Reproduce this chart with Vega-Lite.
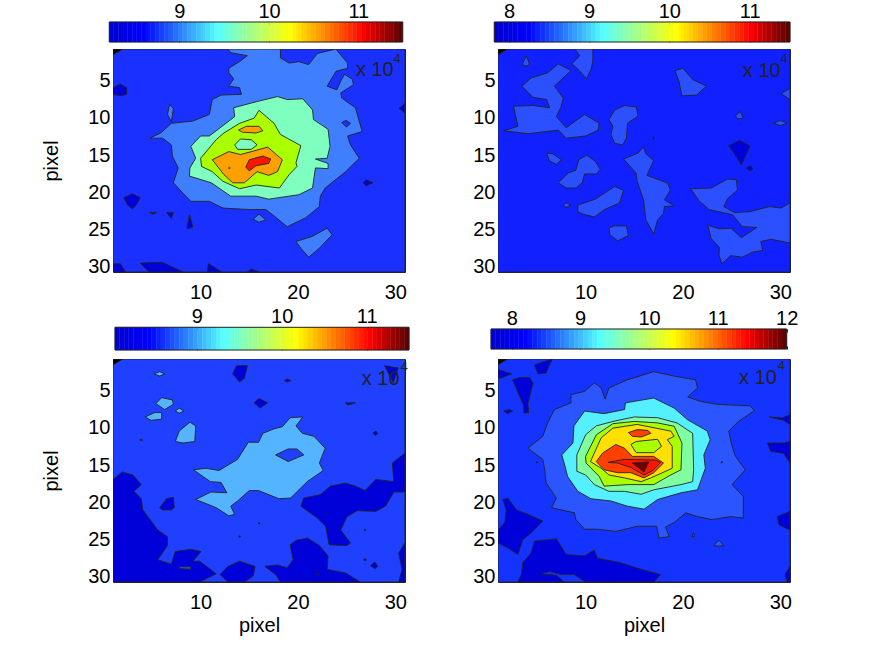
{
  "$schema": "https://vega.github.io/schema/vega-lite/v6.json",
  "padding": {"left": 41, "top": 1, "right": 0, "bottom": 0},
  "background": "white",
  "datasets": {
    "jet": [
      {"i":0,"j":1},{"i":1,"j":2},{"i":2,"j":3},{"i":3,"j":4},{"i":4,"j":5},{"i":5,"j":6},{"i":6,"j":7},{"i":7,"j":8},
      {"i":8,"j":9},{"i":9,"j":10},{"i":10,"j":11},{"i":11,"j":12},{"i":12,"j":13},{"i":13,"j":14},{"i":14,"j":15},{"i":15,"j":16},
      {"i":16,"j":17},{"i":17,"j":18},{"i":18,"j":19},{"i":19,"j":20},{"i":20,"j":21},{"i":21,"j":22},{"i":22,"j":23},{"i":23,"j":24},
      {"i":24,"j":25},{"i":25,"j":26},{"i":26,"j":27},{"i":27,"j":28},{"i":28,"j":29},{"i":29,"j":30},{"i":30,"j":31},{"i":31,"j":32},
      {"i":32,"j":33},{"i":33,"j":34},{"i":34,"j":35},{"i":35,"j":36},{"i":36,"j":37},{"i":37,"j":38},{"i":38,"j":39},{"i":39,"j":40},
      {"i":40,"j":41},{"i":41,"j":42},{"i":42,"j":43},{"i":43,"j":44},{"i":44,"j":45},{"i":45,"j":46},{"i":46,"j":47},{"i":47,"j":48},
      {"i":48,"j":49},{"i":49,"j":50},{"i":50,"j":51},{"i":51,"j":52},{"i":52,"j":53},{"i":53,"j":54},{"i":54,"j":55},{"i":55,"j":56},
      {"i":56,"j":57},{"i":57,"j":58},{"i":58,"j":59},{"i":59,"j":60},{"i":60,"j":61},{"i":61,"j":62},{"i":62,"j":63},{"i":63,"j":64}
    ],
    "topLeft": [
      {"shape":1,"level":2,"x":1,"y":1},{"shape":1,"level":2,"x":31,"y":1},{"shape":1,"level":2,"x":31,"y":31},{"shape":1,"level":2,"x":1,"y":31},{"shape":1,"level":2,"x":1,"y":1},

      {"shape":2,"level":3,"x":12.8,"y":1},{"shape":2,"level":3,"x":13.1,"y":1.5},{"shape":2,"level":3,"x":14.8,"y":1.9},{"shape":2,"level":3,"x":14,"y":2.7},{"shape":2,"level":3,"x":12.9,"y":3.6},{"shape":2,"level":3,"x":12.9,"y":4.2},{"shape":2,"level":3,"x":13.4,"y":5},{"shape":2,"level":3,"x":12.9,"y":6},{"shape":2,"level":3,"x":14,"y":6.2},{"shape":2,"level":3,"x":14.2,"y":7.1},{"shape":2,"level":3,"x":12.1,"y":7.2},{"shape":2,"level":3,"x":11.2,"y":7.8},{"shape":2,"level":3,"x":10.9,"y":9.8},{"shape":2,"level":3,"x":9.2,"y":10.7},{"shape":2,"level":3,"x":7,"y":11},{"shape":2,"level":3,"x":5.9,"y":12.3},{"shape":2,"level":3,"x":4.8,"y":13},{"shape":2,"level":3,"x":6.1,"y":13},{"shape":2,"level":3,"x":7,"y":13.9},{"shape":2,"level":3,"x":7.1,"y":15.4},{"shape":2,"level":3,"x":7.7,"y":17},{"shape":2,"level":3,"x":7.2,"y":19},{"shape":2,"level":3,"x":8.2,"y":20.4},{"shape":2,"level":3,"x":9,"y":21.5},{"shape":2,"level":3,"x":10.9,"y":21.5},{"shape":2,"level":3,"x":12.3,"y":22.4},{"shape":2,"level":3,"x":15,"y":22.6},{"shape":2,"level":3,"x":16.7,"y":22.6},{"shape":2,"level":3,"x":17.4,"y":23.3},{"shape":2,"level":3,"x":18.9,"y":24.9},{"shape":2,"level":3,"x":20.8,"y":23.7},{"shape":2,"level":3,"x":22.2,"y":22.2},{"shape":2,"level":3,"x":22.3,"y":20.8},{"shape":2,"level":3,"x":22.8,"y":19.7},{"shape":2,"level":3,"x":24.9,"y":17.5},{"shape":2,"level":3,"x":26.3,"y":15.7},{"shape":2,"level":3,"x":25.4,"y":13.9},{"shape":2,"level":3,"x":25.1,"y":12.7},{"shape":2,"level":3,"x":26.6,"y":12.1},{"shape":2,"level":3,"x":25.9,"y":8.9},{"shape":2,"level":3,"x":24.5,"y":7.6},{"shape":2,"level":3,"x":24.4,"y":6.9},{"shape":2,"level":3,"x":25.7,"y":5.8},{"shape":2,"level":3,"x":25.6,"y":5.1},{"shape":2,"level":3,"x":24.8,"y":4.4},{"shape":2,"level":3,"x":24.4,"y":5.3},{"shape":2,"level":3,"x":24,"y":6.5},{"shape":2,"level":3,"x":23,"y":6},{"shape":2,"level":3,"x":23.9,"y":4},{"shape":2,"level":3,"x":25.1,"y":3.6},{"shape":2,"level":3,"x":25.1,"y":2.9},{"shape":2,"level":3,"x":23.9,"y":1},{"shape":2,"level":3,"x":22,"y":1.6},{"shape":2,"level":3,"x":21.1,"y":3.1},{"shape":2,"level":3,"x":20.1,"y":2.7},{"shape":2,"level":3,"x":19.1,"y":2.9},{"shape":2,"level":3,"x":18.2,"y":2.2},{"shape":2,"level":3,"x":18.2,"y":1},{"shape":2,"level":3,"x":12.8,"y":1},

      {"shape":3,"level":3,"x":6.6,"y":9.8},{"shape":3,"level":3,"x":6.8,"y":8.5},{"shape":3,"level":3,"x":7.2,"y":9},{"shape":3,"level":3,"x":7,"y":10.8},{"shape":3,"level":3,"x":6.6,"y":9.8},
      {"shape":4,"level":3,"x":19.8,"y":26.9},{"shape":4,"level":3,"x":21.5,"y":26.2},{"shape":4,"level":3,"x":23,"y":25.1},{"shape":4,"level":3,"x":23.5,"y":26},{"shape":4,"level":3,"x":22.2,"y":27.8},{"shape":4,"level":3,"x":21.1,"y":29},{"shape":4,"level":3,"x":20.3,"y":27.8},{"shape":4,"level":3,"x":19.8,"y":26.9},
      {"shape":5,"level":3,"x":15.4,"y":23.9},{"shape":5,"level":3,"x":16,"y":23.2},{"shape":5,"level":3,"x":16.7,"y":24},{"shape":5,"level":3,"x":16,"y":24.3},{"shape":5,"level":3,"x":15.4,"y":23.9},

      {"shape":6,"level":4,"x":13.4,"y":8.9},{"shape":6,"level":4,"x":15.7,"y":8.1},{"shape":6,"level":4,"x":17.9,"y":7.4},{"shape":6,"level":4,"x":18.9,"y":7.8},{"shape":6,"level":4,"x":20.5,"y":7.7},{"shape":6,"level":4,"x":21.5,"y":9.2},{"shape":6,"level":4,"x":21.6,"y":10.5},{"shape":6,"level":4,"x":23.1,"y":11.8},{"shape":6,"level":4,"x":23.3,"y":14.1},{"shape":6,"level":4,"x":23,"y":15.7},{"shape":6,"level":4,"x":21.8,"y":15.8},{"shape":6,"level":4,"x":23.1,"y":16.4},{"shape":6,"level":4,"x":23.1,"y":17.1},{"shape":6,"level":4,"x":21.8,"y":17},{"shape":6,"level":4,"x":21.5,"y":19.7},{"shape":6,"level":4,"x":20.1,"y":20.6},{"shape":6,"level":4,"x":17,"y":21.2},{"shape":6,"level":4,"x":15.7,"y":20.8},{"shape":6,"level":4,"x":13.1,"y":20.8},{"shape":6,"level":4,"x":11.1,"y":19},{"shape":6,"level":4,"x":8.85,"y":18.1},{"shape":6,"level":4,"x":8.9,"y":17},{"shape":6,"level":4,"x":9.5,"y":15.7},{"shape":6,"level":4,"x":9,"y":14.1},{"shape":6,"level":4,"x":10,"y":12.7},{"shape":6,"level":4,"x":10.9,"y":12.7},{"shape":6,"level":4,"x":13.5,"y":10.1},{"shape":6,"level":4,"x":13.4,"y":8.9},

      {"shape":7,"level":5,"x":16,"y":9.25},{"shape":7,"level":5,"x":17.55,"y":11},{"shape":7,"level":5,"x":18.2,"y":12.5},{"shape":7,"level":5,"x":20.3,"y":14},{"shape":7,"level":5,"x":19.8,"y":16.3},{"shape":7,"level":5,"x":19.9,"y":16.8},{"shape":7,"level":5,"x":19.1,"y":17.9},{"shape":7,"level":5,"x":18.1,"y":19.7},{"shape":7,"level":5,"x":15.7,"y":19.3},{"shape":7,"level":5,"x":14,"y":19.8},{"shape":7,"level":5,"x":12.3,"y":18.8},{"shape":7,"level":5,"x":11.2,"y":17.5},{"shape":7,"level":5,"x":10.1,"y":16.8},{"shape":7,"level":5,"x":10,"y":15.7},{"shape":7,"level":5,"x":11.6,"y":13.2},{"shape":7,"level":5,"x":12.4,"y":12.3},{"shape":7,"level":5,"x":14,"y":11},{"shape":7,"level":5,"x":15.5,"y":10.3},{"shape":7,"level":5,"x":16,"y":9.25},

      {"shape":8,"level":4,"x":13.5,"y":13.9},{"shape":8,"level":4,"x":14.1,"y":13.1},{"shape":8,"level":4,"x":15.2,"y":13.2},{"shape":8,"level":4,"x":15.8,"y":13.9},{"shape":8,"level":4,"x":15.2,"y":14.5},{"shape":8,"level":4,"x":13.8,"y":14.5},{"shape":8,"level":4,"x":13.5,"y":13.9},
      {"shape":9,"level":6,"x":13.9,"y":11.9},{"shape":9,"level":6,"x":14.7,"y":11.4},{"shape":9,"level":6,"x":16,"y":11.4},{"shape":9,"level":6,"x":16.4,"y":12},{"shape":9,"level":6,"x":15.7,"y":12.3},{"shape":9,"level":6,"x":14.3,"y":12.2},{"shape":9,"level":6,"x":13.9,"y":11.9},
      {"shape":10,"level":6,"x":11.2,"y":15.9},{"shape":10,"level":6,"x":12.9,"y":14.8},{"shape":10,"level":6,"x":14.1,"y":15.2},{"shape":10,"level":6,"x":16.9,"y":14.2},{"shape":10,"level":6,"x":18.4,"y":15.9},{"shape":10,"level":6,"x":17.9,"y":17.5},{"shape":10,"level":6,"x":17,"y":18},{"shape":10,"level":6,"x":15.8,"y":17.5},{"shape":10,"level":6,"x":14.5,"y":19},{"shape":10,"level":6,"x":13.3,"y":19},{"shape":10,"level":6,"x":12.4,"y":17.9},{"shape":10,"level":6,"x":11.2,"y":15.9},
      {"shape":11,"level":7,"x":14.65,"y":16.9},{"shape":11,"level":7,"x":15,"y":15.9},{"shape":11,"level":7,"x":16.4,"y":15.4},{"shape":11,"level":7,"x":17.2,"y":15.8},{"shape":11,"level":7,"x":17,"y":16.4},{"shape":11,"level":7,"x":15.7,"y":16.7},{"shape":11,"level":7,"x":15,"y":17.4},{"shape":11,"level":7,"x":14.65,"y":16.9},
      {"shape":12,"level":5,"x":12.85,"y":17},{"shape":12,"level":5,"x":12.95,"y":16.9},{"shape":12,"level":5,"x":13.05,"y":17},{"shape":12,"level":5,"x":12.95,"y":17.1},{"shape":12,"level":5,"x":12.85,"y":17},

      {"shape":13,"level":2,"x":24.5,"y":10.9},{"shape":13,"level":2,"x":24.95,"y":10.6},{"shape":13,"level":2,"x":25.4,"y":11},{"shape":13,"level":2,"x":25,"y":11.5},{"shape":13,"level":2,"x":24.5,"y":10.9},

      {"shape":14,"level":1,"x":1,"y":6.2},{"shape":14,"level":1,"x":1.75,"y":5.7},{"shape":14,"level":1,"x":2.4,"y":6.2},{"shape":14,"level":1,"x":2.4,"y":7.1},{"shape":14,"level":1,"x":1.75,"y":7.3},{"shape":14,"level":1,"x":1,"y":7.1},{"shape":14,"level":1,"x":1,"y":6.2},
      {"shape":15,"level":1,"x":2.1,"y":21},{"shape":15,"level":1,"x":3,"y":20.5},{"shape":15,"level":1,"x":3.8,"y":21},{"shape":15,"level":1,"x":3.4,"y":22},{"shape":15,"level":1,"x":3,"y":22.5},{"shape":15,"level":1,"x":2.5,"y":22},{"shape":15,"level":1,"x":2.1,"y":21},
      {"shape":16,"level":1,"x":4.75,"y":23},{"shape":16,"level":1,"x":5.5,"y":23},{"shape":16,"level":1,"x":5.1,"y":23.2},{"shape":16,"level":1,"x":4.75,"y":23},
      {"shape":17,"level":1,"x":6.5,"y":23},{"shape":17,"level":1,"x":7.2,"y":23},{"shape":17,"level":1,"x":7,"y":23.8},{"shape":17,"level":1,"x":6.5,"y":23},
      {"shape":18,"level":1,"x":8.85,"y":23.3},{"shape":18,"level":1,"x":9.2,"y":24.9},{"shape":18,"level":1,"x":9,"y":25.1},{"shape":18,"level":1,"x":8.6,"y":25.1},{"shape":18,"level":1,"x":8.85,"y":23.3},
      {"shape":19,"level":1,"x":26.7,"y":19},{"shape":19,"level":1,"x":27,"y":18.6},{"shape":19,"level":1,"x":27.7,"y":19},{"shape":19,"level":1,"x":27,"y":19.4},{"shape":19,"level":1,"x":26.7,"y":19},
      {"shape":20,"level":1,"x":31,"y":8.3},{"shape":20,"level":1,"x":30.4,"y":9},{"shape":20,"level":1,"x":31,"y":9.6},{"shape":20,"level":1,"x":31,"y":8.3},
      {"shape":21,"level":1,"x":1,"y":29.9},{"shape":21,"level":1,"x":1.75,"y":29.9},{"shape":21,"level":1,"x":2.3,"y":31},{"shape":21,"level":1,"x":1,"y":31},{"shape":21,"level":1,"x":1,"y":29.9},
      {"shape":22,"level":1,"x":3.8,"y":29.8},{"shape":22,"level":1,"x":6.05,"y":29.7},{"shape":22,"level":1,"x":8.2,"y":31},{"shape":22,"level":1,"x":4.7,"y":31},{"shape":22,"level":1,"x":3.8,"y":29.8},
      {"shape":23,"level":1,"x":10.7,"y":31},{"shape":23,"level":1,"x":10.8,"y":29.9},{"shape":23,"level":1,"x":12.2,"y":31},{"shape":23,"level":1,"x":10.7,"y":31},
      {"shape":24,"level":1,"x":14.8,"y":31},{"shape":24,"level":1,"x":15.2,"y":30.6},{"shape":24,"level":1,"x":16,"y":31},{"shape":24,"level":1,"x":14.8,"y":31},

      {"shape":25,"level":0,"x":1,"y":1},{"shape":25,"level":0,"x":2,"y":1},{"shape":25,"level":0,"x":1,"y":1.8},{"shape":25,"level":0,"x":1,"y":1}
    ],
    "topRight": [
      {"shape":1,"level":2,"x":1,"y":1},{"shape":1,"level":2,"x":31,"y":1},{"shape":1,"level":2,"x":31,"y":31},{"shape":1,"level":2,"x":1,"y":31},{"shape":1,"level":2,"x":1,"y":1},

      {"shape":2,"level":3,"x":8.9,"y":1},{"shape":2,"level":3,"x":10.75,"y":1},{"shape":2,"level":3,"x":10.75,"y":2.5},{"shape":2,"level":3,"x":10.6,"y":3.6},{"shape":2,"level":3,"x":10.1,"y":5},{"shape":2,"level":3,"x":9.2,"y":3.7},{"shape":2,"level":3,"x":8.6,"y":3},{"shape":2,"level":3,"x":9.4,"y":1.9},{"shape":2,"level":3,"x":8.9,"y":1},
      {"shape":3,"level":3,"x":3.5,"y":3.1},{"shape":3,"level":3,"x":3.9,"y":1.9},{"shape":3,"level":3,"x":4.25,"y":3.1},{"shape":3,"level":3,"x":3.9,"y":3.3},{"shape":3,"level":3,"x":3.5,"y":3.1},
      {"shape":4,"level":3,"x":3.46,"y":6},{"shape":4,"level":3,"x":4.4,"y":4.9},{"shape":4,"level":3,"x":6.1,"y":4.2},{"shape":4,"level":3,"x":7.2,"y":3},{"shape":4,"level":3,"x":8.5,"y":3.9},{"shape":4,"level":3,"x":6.8,"y":6},{"shape":4,"level":3,"x":7.7,"y":7.6},{"shape":4,"level":3,"x":7.5,"y":8.7},{"shape":4,"level":3,"x":7,"y":10.1},{"shape":4,"level":3,"x":8,"y":11.6},{"shape":4,"level":3,"x":9.9,"y":9.8},{"shape":4,"level":3,"x":11.4,"y":11},{"shape":4,"level":3,"x":11.3,"y":11.9},{"shape":4,"level":3,"x":10,"y":12.7},{"shape":4,"level":3,"x":8,"y":13},{"shape":4,"level":3,"x":7.2,"y":11.9},{"shape":4,"level":3,"x":4.1,"y":12.4},{"shape":4,"level":3,"x":1.6,"y":12},{"shape":4,"level":3,"x":3.05,"y":11.4},{"shape":4,"level":3,"x":2.6,"y":8.7},{"shape":4,"level":3,"x":4.6,"y":8.6},{"shape":4,"level":3,"x":6.3,"y":8.9},{"shape":4,"level":3,"x":6,"y":7.8},{"shape":4,"level":3,"x":4.6,"y":7.5},{"shape":4,"level":3,"x":3.46,"y":6},
      {"shape":5,"level":3,"x":19.2,"y":3.9},{"shape":5,"level":3,"x":20,"y":3.6},{"shape":5,"level":3,"x":21,"y":5.1},{"shape":5,"level":3,"x":22.4,"y":6},{"shape":5,"level":3,"x":21.4,"y":7.2},{"shape":5,"level":3,"x":19.9,"y":7.3},{"shape":5,"level":3,"x":19.6,"y":5.4},{"shape":5,"level":3,"x":19.2,"y":3.9},
      {"shape":6,"level":3,"x":30.1,"y":7},{"shape":6,"level":3,"x":31,"y":6.3},{"shape":6,"level":3,"x":31,"y":7.8},{"shape":6,"level":3,"x":30.1,"y":7},
      {"shape":7,"level":3,"x":12.4,"y":10.5},{"shape":7,"level":3,"x":13,"y":9.2},{"shape":7,"level":3,"x":14,"y":8.6},{"shape":7,"level":3,"x":15.2,"y":8.8},{"shape":7,"level":3,"x":15.4,"y":10},{"shape":7,"level":3,"x":14.3,"y":11},{"shape":7,"level":3,"x":14.2,"y":13},{"shape":7,"level":3,"x":13.8,"y":13.9},{"shape":7,"level":3,"x":13,"y":13.7},{"shape":7,"level":3,"x":12.6,"y":12.5},{"shape":7,"level":3,"x":12.8,"y":11.4},{"shape":7,"level":3,"x":12.4,"y":10.5},
      {"shape":8,"level":3,"x":6,"y":15},{"shape":8,"level":3,"x":6.65,"y":15.1},{"shape":8,"level":3,"x":7.5,"y":15.9},{"shape":8,"level":3,"x":7,"y":16.5},{"shape":8,"level":3,"x":6.3,"y":16.1},{"shape":8,"level":3,"x":6,"y":15},
      {"shape":9,"level":3,"x":7.2,"y":19},{"shape":9,"level":3,"x":8.2,"y":17.7},{"shape":9,"level":3,"x":9,"y":17.3},{"shape":9,"level":3,"x":9.3,"y":15.9},{"shape":9,"level":3,"x":10.1,"y":15.3},{"shape":9,"level":3,"x":11,"y":16.1},{"shape":9,"level":3,"x":11.5,"y":17.2},{"shape":9,"level":3,"x":11.1,"y":17.8},{"shape":9,"level":3,"x":9.9,"y":17.8},{"shape":9,"level":3,"x":9.65,"y":19},{"shape":9,"level":3,"x":9,"y":19.7},{"shape":9,"level":3,"x":8,"y":19.7},{"shape":9,"level":3,"x":7.2,"y":19},
      {"shape":10,"level":3,"x":7.7,"y":22},{"shape":10,"level":3,"x":8,"y":21.7},{"shape":10,"level":3,"x":8.5,"y":22},{"shape":10,"level":3,"x":8,"y":22.3},{"shape":10,"level":3,"x":7.7,"y":22},
      {"shape":11,"level":3,"x":9.2,"y":22},{"shape":11,"level":3,"x":11,"y":21.2},{"shape":11,"level":3,"x":12.97,"y":19.5},{"shape":11,"level":3,"x":13.9,"y":20},{"shape":11,"level":3,"x":13.5,"y":21.7},{"shape":11,"level":3,"x":11.95,"y":22.6},{"shape":11,"level":3,"x":10.9,"y":23.6},{"shape":11,"level":3,"x":9.7,"y":23.2},{"shape":11,"level":3,"x":9.2,"y":22.9},{"shape":11,"level":3,"x":9.2,"y":22},
      {"shape":12,"level":3,"x":12.4,"y":25.1},{"shape":12,"level":3,"x":12.9,"y":24.8},{"shape":12,"level":3,"x":14.2,"y":24.8},{"shape":12,"level":3,"x":14.4,"y":26.1},{"shape":12,"level":3,"x":13.3,"y":26.8},{"shape":12,"level":3,"x":12.5,"y":26},{"shape":12,"level":3,"x":12.4,"y":25.1},
      {"shape":13,"level":3,"x":13.9,"y":15.8},{"shape":13,"level":3,"x":15.4,"y":15},{"shape":13,"level":3,"x":15.95,"y":14.2},{"shape":13,"level":3,"x":16.2,"y":15.1},{"shape":13,"level":3,"x":17,"y":16},{"shape":13,"level":3,"x":16.3,"y":18},{"shape":13,"level":3,"x":18.45,"y":19.05},{"shape":13,"level":3,"x":18.7,"y":20},{"shape":13,"level":3,"x":18.1,"y":21.3},{"shape":13,"level":3,"x":19.1,"y":22.1},{"shape":13,"level":3,"x":18.1,"y":22.2},{"shape":13,"level":3,"x":18,"y":23.1},{"shape":13,"level":3,"x":17.4,"y":24},{"shape":13,"level":3,"x":17,"y":25.9},{"shape":13,"level":3,"x":16.2,"y":24},{"shape":13,"level":3,"x":15.95,"y":21.3},{"shape":13,"level":3,"x":15.3,"y":18.8},{"shape":13,"level":3,"x":15.2,"y":17.7},{"shape":13,"level":3,"x":13.9,"y":15.8},
      {"shape":14,"level":3,"x":20.8,"y":19.8},{"shape":14,"level":3,"x":22.9,"y":19.7},{"shape":14,"level":3,"x":24.6,"y":18.5},{"shape":14,"level":3,"x":25.5,"y":18.6},{"shape":14,"level":3,"x":25.6,"y":20},{"shape":14,"level":3,"x":24.6,"y":21.1},{"shape":14,"level":3,"x":24.2,"y":22.2},{"shape":14,"level":3,"x":25.3,"y":23},{"shape":14,"level":3,"x":26.8,"y":22.9},{"shape":14,"level":3,"x":28.9,"y":22.2},{"shape":14,"level":3,"x":30.1,"y":22.4},{"shape":14,"level":3,"x":31,"y":21.7},{"shape":14,"level":3,"x":31,"y":27.1},{"shape":14,"level":3,"x":29.05,"y":26.6},{"shape":14,"level":3,"x":28,"y":26.9},{"shape":14,"level":3,"x":28.2,"y":28.1},{"shape":14,"level":3,"x":27.2,"y":28.3},{"shape":14,"level":3,"x":26.1,"y":29},{"shape":14,"level":3,"x":24.9,"y":28.8},{"shape":14,"level":3,"x":24,"y":29.9},{"shape":14,"level":3,"x":23.7,"y":28.7},{"shape":14,"level":3,"x":23.75,"y":27.7},{"shape":14,"level":3,"x":22.9,"y":26.5},{"shape":14,"level":3,"x":22.55,"y":24.7},{"shape":14,"level":3,"x":23.75,"y":25.2},{"shape":14,"level":3,"x":24.95,"y":25.1},{"shape":14,"level":3,"x":26,"y":26.4},{"shape":14,"level":3,"x":27.6,"y":25},{"shape":14,"level":3,"x":26.1,"y":24.9},{"shape":14,"level":3,"x":25.1,"y":23.3},{"shape":14,"level":3,"x":22.7,"y":22.6},{"shape":14,"level":3,"x":21.7,"y":21.5},{"shape":14,"level":3,"x":20.8,"y":19.8},
      {"shape":15,"level":3,"x":25.4,"y":10},{"shape":15,"level":3,"x":25.9,"y":9.4},{"shape":15,"level":3,"x":26.2,"y":10.3},{"shape":15,"level":3,"x":25.6,"y":10.4},{"shape":15,"level":3,"x":25.4,"y":10},
      {"shape":16,"level":3,"x":29.3,"y":11},{"shape":16,"level":3,"x":30,"y":10.6},{"shape":16,"level":3,"x":30.7,"y":11},{"shape":16,"level":3,"x":30,"y":11.3},{"shape":16,"level":3,"x":29.3,"y":11},

      {"shape":17,"level":1,"x":24.7,"y":14},{"shape":17,"level":1,"x":25.8,"y":13.3},{"shape":17,"level":1,"x":26.9,"y":14},{"shape":17,"level":1,"x":26,"y":16.6},{"shape":17,"level":1,"x":25.3,"y":15.1},{"shape":17,"level":1,"x":24.7,"y":14},
      {"shape":18,"level":1,"x":26.5,"y":17},{"shape":18,"level":1,"x":26.9,"y":16.7},{"shape":18,"level":1,"x":27.2,"y":17.1},{"shape":18,"level":1,"x":26.9,"y":17.4},{"shape":18,"level":1,"x":26.5,"y":17},
      {"shape":19,"level":1,"x":16.9,"y":13},{"shape":19,"level":1,"x":17,"y":12.9},{"shape":19,"level":1,"x":17.1,"y":13},{"shape":19,"level":1,"x":17,"y":13.1},{"shape":19,"level":1,"x":16.9,"y":13},
      {"shape":20,"level":0,"x":1,"y":1},{"shape":20,"level":0,"x":2,"y":1},{"shape":20,"level":0,"x":1,"y":1.8},{"shape":20,"level":0,"x":1,"y":1}
    ],
    "bottomLeft": [
      {"shape":1,"level":2,"x":1,"y":1},{"shape":1,"level":2,"x":31,"y":1},{"shape":1,"level":2,"x":31,"y":31},{"shape":1,"level":2,"x":1,"y":31},{"shape":1,"level":2,"x":1,"y":1},

      {"shape":2,"level":3,"x":9.26,"y":15.9},{"shape":2,"level":3,"x":10.55,"y":15.7},{"shape":2,"level":3,"x":11.9,"y":16},{"shape":2,"level":3,"x":13.8,"y":14.5},{"shape":2,"level":3,"x":14.9,"y":12.2},{"shape":2,"level":3,"x":15.95,"y":12.2},{"shape":2,"level":3,"x":16.4,"y":11},{"shape":2,"level":3,"x":17.55,"y":10.4},{"shape":2,"level":3,"x":18.4,"y":10.1},{"shape":2,"level":3,"x":19.2,"y":8.9},{"shape":2,"level":3,"x":20.5,"y":8.8},{"shape":2,"level":3,"x":19.8,"y":10},{"shape":2,"level":3,"x":20.45,"y":11},{"shape":2,"level":3,"x":21.65,"y":11.4},{"shape":2,"level":3,"x":22.8,"y":13},{"shape":2,"level":3,"x":22.2,"y":15},{"shape":2,"level":3,"x":22.6,"y":16},{"shape":2,"level":3,"x":20.95,"y":17.5},{"shape":2,"level":3,"x":19.25,"y":19.7},{"shape":2,"level":3,"x":18.05,"y":19.8},{"shape":2,"level":3,"x":15.95,"y":18.7},{"shape":2,"level":3,"x":15,"y":18.7},{"shape":2,"level":3,"x":13.8,"y":20.1},{"shape":2,"level":3,"x":13.1,"y":20.8},{"shape":2,"level":3,"x":13.5,"y":21.9},{"shape":2,"level":3,"x":12.9,"y":22.1},{"shape":2,"level":3,"x":11.6,"y":21},{"shape":2,"level":3,"x":9.5,"y":19.9},{"shape":2,"level":3,"x":11.05,"y":18.9},{"shape":2,"level":3,"x":12.7,"y":19},{"shape":2,"level":3,"x":12.1,"y":17.6},{"shape":2,"level":3,"x":11,"y":17.5},{"shape":2,"level":3,"x":9.26,"y":15.9},
      {"shape":3,"level":2,"x":17.7,"y":13.9},{"shape":3,"level":2,"x":19,"y":13.1},{"shape":3,"level":2,"x":19.9,"y":13.1},{"shape":3,"level":2,"x":20.6,"y":13.9},{"shape":3,"level":2,"x":19,"y":14.8},{"shape":3,"level":2,"x":17.7,"y":13.9},
      {"shape":4,"level":3,"x":5.4,"y":7},{"shape":4,"level":3,"x":6,"y":6.2},{"shape":4,"level":3,"x":7.1,"y":6.5},{"shape":4,"level":3,"x":7.2,"y":7.1},{"shape":4,"level":3,"x":6.3,"y":7.8},{"shape":4,"level":3,"x":5.4,"y":7},
      {"shape":5,"level":3,"x":4.3,"y":8.8},{"shape":5,"level":3,"x":5.3,"y":8.2},{"shape":5,"level":3,"x":6,"y":8.2},{"shape":5,"level":3,"x":6,"y":9.1},{"shape":5,"level":3,"x":4.9,"y":9.25},{"shape":5,"level":3,"x":4.3,"y":8.8},
      {"shape":6,"level":3,"x":7.4,"y":12.1},{"shape":6,"level":3,"x":7.8,"y":10.7},{"shape":6,"level":3,"x":8.9,"y":9.5},{"shape":6,"level":3,"x":9.5,"y":10},{"shape":6,"level":3,"x":9.4,"y":12.1},{"shape":6,"level":3,"x":8.2,"y":12.3},{"shape":6,"level":3,"x":7.4,"y":12.1},
      {"shape":7,"level":3,"x":5.2,"y":3},{"shape":7,"level":3,"x":5.8,"y":2.7},{"shape":7,"level":3,"x":6.3,"y":3},{"shape":7,"level":3,"x":5.8,"y":3.3},{"shape":7,"level":3,"x":5.2,"y":3},
      {"shape":8,"level":3,"x":7.4,"y":8},{"shape":8,"level":3,"x":7.8,"y":7.6},{"shape":8,"level":3,"x":8.3,"y":8},{"shape":8,"level":3,"x":7.8,"y":8.3},{"shape":8,"level":3,"x":7.4,"y":8},

      {"shape":9,"level":1,"x":13.3,"y":3},{"shape":9,"level":1,"x":13.7,"y":1.9},{"shape":9,"level":1,"x":14.8,"y":1.9},{"shape":9,"level":1,"x":14.5,"y":3.6},{"shape":9,"level":1,"x":14,"y":4.1},{"shape":9,"level":1,"x":13.3,"y":3},
      {"shape":10,"level":1,"x":15.5,"y":6.9},{"shape":10,"level":1,"x":16,"y":6.3},{"shape":10,"level":1,"x":16.9,"y":6.9},{"shape":10,"level":1,"x":16.1,"y":7.6},{"shape":10,"level":1,"x":15.5,"y":6.9},
      {"shape":11,"level":1,"x":18.6,"y":3.9},{"shape":11,"level":1,"x":18.9,"y":3.7},{"shape":11,"level":1,"x":19.3,"y":3.9},{"shape":11,"level":1,"x":18.9,"y":4.1},{"shape":11,"level":1,"x":18.6,"y":3.9},
      {"shape":12,"level":1,"x":28.9,"y":1.9},{"shape":12,"level":1,"x":30.3,"y":2.2},{"shape":12,"level":1,"x":29.8,"y":4.2},{"shape":12,"level":1,"x":29.3,"y":2.9},{"shape":12,"level":1,"x":28.9,"y":1.9},
      {"shape":13,"level":1,"x":24.9,"y":6.9},{"shape":13,"level":1,"x":25.9,"y":6.9},{"shape":13,"level":1,"x":25.1,"y":7.2},{"shape":13,"level":1,"x":24.9,"y":6.9},
      {"shape":14,"level":1,"x":27.7,"y":11},{"shape":14,"level":1,"x":28,"y":10.7},{"shape":14,"level":1,"x":28.2,"y":11},{"shape":14,"level":1,"x":28,"y":11.3},{"shape":14,"level":1,"x":27.7,"y":11},
      {"shape":15,"level":1,"x":5.8,"y":21},{"shape":15,"level":1,"x":6.5,"y":19.8},{"shape":15,"level":1,"x":7.2,"y":19.6},{"shape":15,"level":1,"x":7.3,"y":21},{"shape":15,"level":1,"x":7,"y":21.3},{"shape":15,"level":1,"x":6.1,"y":21.3},{"shape":15,"level":1,"x":5.8,"y":21},
      {"shape":16,"level":1,"x":1,"y":17.2},{"shape":16,"level":1,"x":1.95,"y":16.2},{"shape":16,"level":1,"x":3.05,"y":16.6},{"shape":16,"level":1,"x":3.9,"y":17.9},{"shape":16,"level":1,"x":3.15,"y":18.8},{"shape":16,"level":1,"x":3.9,"y":19.8},{"shape":16,"level":1,"x":4.07,"y":21.3},{"shape":16,"level":1,"x":5.6,"y":24},{"shape":16,"level":1,"x":6.6,"y":24.9},{"shape":16,"level":1,"x":6.6,"y":26.1},{"shape":16,"level":1,"x":5.6,"y":28},{"shape":16,"level":1,"x":7,"y":28.6},{"shape":16,"level":1,"x":7.4,"y":26.9},{"shape":16,"level":1,"x":9,"y":26.6},{"shape":16,"level":1,"x":10.05,"y":26.9},{"shape":16,"level":1,"x":9.2,"y":28.2},{"shape":16,"level":1,"x":9.9,"y":28.2},{"shape":16,"level":1,"x":11.6,"y":29.9},{"shape":16,"level":1,"x":9.9,"y":31},{"shape":16,"level":1,"x":1,"y":31},{"shape":16,"level":1,"x":1,"y":17.2},
      {"shape":17,"level":2,"x":7.8,"y":28.9},{"shape":17,"level":2,"x":9,"y":28.9},{"shape":17,"level":2,"x":9,"y":29.3},{"shape":17,"level":2,"x":7.8,"y":29.2},{"shape":17,"level":2,"x":7.8,"y":28.9},
      {"shape":18,"level":1,"x":12,"y":30},{"shape":18,"level":1,"x":12.8,"y":28.9},{"shape":18,"level":1,"x":14,"y":28.2},{"shape":18,"level":1,"x":15.6,"y":28.9},{"shape":18,"level":1,"x":15.4,"y":30.2},{"shape":18,"level":1,"x":14.5,"y":31},{"shape":18,"level":1,"x":12.8,"y":31},{"shape":18,"level":1,"x":12,"y":30},
      {"shape":19,"level":1,"x":16.6,"y":28.9},{"shape":19,"level":1,"x":17.9,"y":28.7},{"shape":19,"level":1,"x":18.9,"y":29.1},{"shape":19,"level":1,"x":19.5,"y":28},{"shape":19,"level":1,"x":19.2,"y":26},{"shape":19,"level":1,"x":19.8,"y":25.4},{"shape":19,"level":1,"x":21,"y":25.1},{"shape":19,"level":1,"x":22.2,"y":26.1},{"shape":19,"level":1,"x":23.1,"y":27.5},{"shape":19,"level":1,"x":23,"y":29.3},{"shape":19,"level":1,"x":24.9,"y":29.8},{"shape":19,"level":1,"x":26.4,"y":31},{"shape":19,"level":1,"x":18.2,"y":31},{"shape":19,"level":1,"x":17.7,"y":30},{"shape":19,"level":1,"x":16.6,"y":28.9},
      {"shape":20,"level":1,"x":20.3,"y":20.8},{"shape":20,"level":1,"x":20.6,"y":19.7},{"shape":20,"level":1,"x":22.3,"y":19.25},{"shape":20,"level":1,"x":23.35,"y":18.1},{"shape":20,"level":1,"x":24.9,"y":17.7},{"shape":20,"level":1,"x":25.9,"y":18.1},{"shape":20,"level":1,"x":26.9,"y":18.7},{"shape":20,"level":1,"x":28,"y":17.2},{"shape":20,"level":1,"x":29.85,"y":17.5},{"shape":20,"level":1,"x":29.7,"y":15},{"shape":20,"level":1,"x":31,"y":13.65},{"shape":20,"level":1,"x":31,"y":18.9},{"shape":20,"level":1,"x":29.85,"y":18.9},{"shape":20,"level":1,"x":29,"y":20.8},{"shape":20,"level":1,"x":28,"y":21.5},{"shape":20,"level":1,"x":26.1,"y":21.4},{"shape":20,"level":1,"x":25.05,"y":22.2},{"shape":20,"level":1,"x":24.4,"y":24},{"shape":20,"level":1,"x":25.4,"y":25.75},{"shape":20,"level":1,"x":25.05,"y":26.1},{"shape":20,"level":1,"x":23.2,"y":26},{"shape":20,"level":1,"x":22.85,"y":23.5},{"shape":20,"level":1,"x":22,"y":22.4},{"shape":20,"level":1,"x":20.3,"y":20.8},
      {"shape":21,"level":1,"x":31,"y":25.75},{"shape":21,"level":1,"x":30.35,"y":27.1},{"shape":21,"level":1,"x":30.7,"y":29.3},{"shape":21,"level":1,"x":30.35,"y":31},{"shape":21,"level":1,"x":31,"y":31},{"shape":21,"level":1,"x":31,"y":25.75},
      {"shape":22,"level":1,"x":27.45,"y":28.8},{"shape":22,"level":1,"x":27.9,"y":28.3},{"shape":22,"level":1,"x":28.2,"y":28.9},{"shape":22,"level":1,"x":27.9,"y":29.2},{"shape":22,"level":1,"x":27.45,"y":28.8},
      {"shape":23,"level":1,"x":22.85,"y":21.9},{"shape":23,"level":1,"x":22.95,"y":21.8},{"shape":23,"level":1,"x":23.05,"y":21.9},{"shape":23,"level":1,"x":22.95,"y":22},{"shape":23,"level":1,"x":22.85,"y":21.9},
      {"shape":24,"level":1,"x":26.8,"y":24},{"shape":24,"level":1,"x":26.9,"y":23.9},{"shape":24,"level":1,"x":27,"y":24},{"shape":24,"level":1,"x":26.9,"y":24.1},{"shape":24,"level":1,"x":26.8,"y":24},
      {"shape":25,"level":1,"x":13.9,"y":24.9},{"shape":25,"level":1,"x":14,"y":24.8},{"shape":25,"level":1,"x":14.1,"y":24.9},{"shape":25,"level":1,"x":14,"y":25},{"shape":25,"level":1,"x":13.9,"y":24.9},
      {"shape":26,"level":1,"x":15.9,"y":23.1},{"shape":26,"level":1,"x":16,"y":23},{"shape":26,"level":1,"x":16.1,"y":23.1},{"shape":26,"level":1,"x":16,"y":23.2},{"shape":26,"level":1,"x":15.9,"y":23.1},
      {"shape":27,"level":1,"x":26.75,"y":28},{"shape":27,"level":1,"x":26.9,"y":27.85},{"shape":27,"level":1,"x":27.05,"y":28},{"shape":27,"level":1,"x":26.9,"y":28.15},{"shape":27,"level":1,"x":26.75,"y":28},
      {"shape":28,"level":1,"x":3.75,"y":11.9},{"shape":28,"level":1,"x":3.9,"y":11.8},{"shape":28,"level":1,"x":4.05,"y":11.9},{"shape":28,"level":1,"x":3.9,"y":12},{"shape":28,"level":1,"x":3.75,"y":11.9},
      {"shape":29,"level":1,"x":21.8,"y":29.9},{"shape":29,"level":1,"x":22,"y":29.8},{"shape":29,"level":1,"x":22.2,"y":29.9},{"shape":29,"level":1,"x":22,"y":30},{"shape":29,"level":1,"x":21.8,"y":29.9},
      {"shape":30,"level":0,"x":1,"y":1},{"shape":30,"level":0,"x":2,"y":1},{"shape":30,"level":0,"x":1,"y":1.8},{"shape":30,"level":0,"x":1,"y":1}
    ],
    "bottomRight": [
      {"shape":1,"level":2,"x":1,"y":1},{"shape":1,"level":2,"x":31,"y":1},{"shape":1,"level":2,"x":31,"y":31},{"shape":1,"level":2,"x":1,"y":31},{"shape":1,"level":2,"x":1,"y":1},

      {"shape":2,"level":1,"x":4.75,"y":1.8},{"shape":2,"level":1,"x":5.4,"y":1.5},{"shape":2,"level":1,"x":6.6,"y":1},{"shape":2,"level":1,"x":6.2,"y":2},{"shape":2,"level":1,"x":5.95,"y":2.9},{"shape":2,"level":1,"x":5.1,"y":3},{"shape":2,"level":1,"x":4.75,"y":1.8},
      {"shape":3,"level":1,"x":1,"y":2.4},{"shape":3,"level":1,"x":2.4,"y":3},{"shape":3,"level":1,"x":1.35,"y":3.55},{"shape":3,"level":1,"x":1,"y":3.55},{"shape":3,"level":1,"x":1,"y":2.4},
      {"shape":4,"level":1,"x":2.5,"y":3.8},{"shape":4,"level":1,"x":3.2,"y":3.5},{"shape":4,"level":1,"x":4.25,"y":3.5},{"shape":4,"level":1,"x":4.6,"y":4.25},{"shape":4,"level":1,"x":4.07,"y":7},{"shape":4,"level":1,"x":4.15,"y":8.25},{"shape":4,"level":1,"x":3.65,"y":8.25},{"shape":4,"level":1,"x":3.65,"y":7.3},{"shape":4,"level":1,"x":3.05,"y":5.5},{"shape":4,"level":1,"x":2.5,"y":3.8},
      {"shape":5,"level":1,"x":1.6,"y":8},{"shape":5,"level":1,"x":2.2,"y":7.8},{"shape":5,"level":1,"x":2.5,"y":8},{"shape":5,"level":1,"x":2,"y":8.35},{"shape":5,"level":1,"x":1.6,"y":8},
      {"shape":6,"level":1,"x":1.5,"y":19.9},{"shape":6,"level":1,"x":2,"y":19.7},{"shape":6,"level":1,"x":2.9,"y":21.3},{"shape":6,"level":1,"x":4.07,"y":21.9},{"shape":6,"level":1,"x":5.6,"y":22.8},{"shape":6,"level":1,"x":4.4,"y":24.4},{"shape":6,"level":1,"x":3.55,"y":25.3},{"shape":6,"level":1,"x":3.05,"y":27.3},{"shape":6,"level":1,"x":2,"y":26.4},{"shape":6,"level":1,"x":1,"y":25.75},{"shape":6,"level":1,"x":1,"y":24},{"shape":6,"level":1,"x":1.7,"y":23},{"shape":6,"level":1,"x":1.85,"y":21.3},{"shape":6,"level":1,"x":1.5,"y":19.9},
      {"shape":7,"level":1,"x":3.55,"y":28.4},{"shape":7,"level":1,"x":4.4,"y":27.1},{"shape":7,"level":1,"x":4.75,"y":25.5},{"shape":7,"level":1,"x":7,"y":25.2},{"shape":7,"level":1,"x":8,"y":27.3},{"shape":7,"level":1,"x":9.9,"y":27.5},{"shape":7,"level":1,"x":10.9,"y":26.7},{"shape":7,"level":1,"x":11.2,"y":27.8},{"shape":7,"level":1,"x":13.6,"y":28.4},{"shape":7,"level":1,"x":15.7,"y":29.3},{"shape":7,"level":1,"x":17.7,"y":30},{"shape":7,"level":1,"x":17,"y":31},{"shape":7,"level":1,"x":3.05,"y":31},{"shape":7,"level":1,"x":3.4,"y":30},{"shape":7,"level":1,"x":3.55,"y":28.4},
      {"shape":8,"level":2,"x":5.4,"y":29.9},{"shape":8,"level":2,"x":6.3,"y":29.6},{"shape":8,"level":2,"x":7.5,"y":30},{"shape":8,"level":2,"x":8.85,"y":30},{"shape":8,"level":2,"x":10,"y":31},{"shape":8,"level":2,"x":7.8,"y":31},{"shape":8,"level":2,"x":7,"y":30.1},{"shape":8,"level":2,"x":5.4,"y":29.9},
      {"shape":9,"level":1,"x":28.9,"y":8.8},{"shape":9,"level":1,"x":30.2,"y":8.95},{"shape":9,"level":1,"x":31,"y":8.5},{"shape":9,"level":1,"x":31,"y":9.8},{"shape":9,"level":1,"x":30.35,"y":9.25},{"shape":9,"level":1,"x":28.9,"y":8.8},
      {"shape":10,"level":1,"x":28.7,"y":12.3},{"shape":10,"level":1,"x":30.35,"y":12.3},{"shape":10,"level":1,"x":31,"y":12.1},{"shape":10,"level":1,"x":31,"y":15},{"shape":10,"level":1,"x":30.35,"y":13.7},{"shape":10,"level":1,"x":29,"y":13.4},{"shape":10,"level":1,"x":28.7,"y":12.3},
      {"shape":11,"level":1,"x":29.7,"y":22.2},{"shape":11,"level":1,"x":31,"y":21.5},{"shape":11,"level":1,"x":31,"y":24},{"shape":11,"level":1,"x":29.85,"y":23.3},{"shape":11,"level":1,"x":29.7,"y":22.2},
      {"shape":12,"level":1,"x":30.5,"y":30},{"shape":12,"level":1,"x":31,"y":28.9},{"shape":12,"level":1,"x":31,"y":31},{"shape":12,"level":1,"x":30.7,"y":31},{"shape":12,"level":1,"x":30.5,"y":30},

      {"shape":13,"level":3,"x":23.2,"y":26},{"shape":13,"level":3,"x":23.7,"y":25.4},{"shape":13,"level":3,"x":24.2,"y":26.1},{"shape":13,"level":3,"x":23.5,"y":26.2},{"shape":13,"level":3,"x":23.2,"y":26},
      {"shape":14,"level":3,"x":20.9,"y":24.9},{"shape":14,"level":3,"x":21.1,"y":24.4},{"shape":14,"level":3,"x":21.2,"y":24.9},{"shape":14,"level":3,"x":20.9,"y":24.9},

      {"shape":15,"level":3,"x":4.07,"y":13},{"shape":15,"level":3,"x":5.6,"y":11.4},{"shape":15,"level":3,"x":6.1,"y":9.6},{"shape":15,"level":3,"x":6.8,"y":7.8},{"shape":15,"level":3,"x":8.5,"y":6.9},{"shape":15,"level":3,"x":8.5,"y":5.8},{"shape":15,"level":3,"x":9.9,"y":5.35},{"shape":15,"level":3,"x":10.9,"y":4.2},{"shape":15,"level":3,"x":11.6,"y":4.9},{"shape":15,"level":3,"x":12,"y":6.4},{"shape":15,"level":3,"x":12.4,"y":4.9},{"shape":15,"level":3,"x":14.3,"y":3.8},{"shape":15,"level":3,"x":17,"y":2.7},{"shape":15,"level":3,"x":19.1,"y":3.3},{"shape":15,"level":3,"x":21.3,"y":3.8},{"shape":15,"level":3,"x":21.5,"y":4.9},{"shape":15,"level":3,"x":20.5,"y":6.1},{"shape":15,"level":3,"x":21.8,"y":6.7},{"shape":15,"level":3,"x":23.5,"y":7.1},{"shape":15,"level":3,"x":26.9,"y":7.3},{"shape":15,"level":3,"x":27.35,"y":7.95},{"shape":15,"level":3,"x":25.7,"y":9.4},{"shape":15,"level":3,"x":24.7,"y":10.7},{"shape":15,"level":3,"x":25.05,"y":12.75},{"shape":15,"level":3,"x":25.4,"y":14.1},{"shape":15,"level":3,"x":26.4,"y":15.9},{"shape":15,"level":3,"x":25.05,"y":17.9},{"shape":15,"level":3,"x":26.2,"y":19.5},{"shape":15,"level":3,"x":26.2,"y":22.4},{"shape":15,"level":3,"x":24.9,"y":22.2},{"shape":15,"level":3,"x":23,"y":22.6},{"shape":15,"level":3,"x":21.5,"y":22.2},{"shape":15,"level":3,"x":20.3,"y":21.7},{"shape":15,"level":3,"x":19.1,"y":23},{"shape":15,"level":3,"x":18.2,"y":23.6},{"shape":15,"level":3,"x":18.6,"y":24.9},{"shape":15,"level":3,"x":17.55,"y":25.1},{"shape":15,"level":3,"x":17.3,"y":23.5},{"shape":15,"level":3,"x":15.3,"y":23.5},{"shape":15,"level":3,"x":13.1,"y":24.2},{"shape":15,"level":3,"x":11.2,"y":23.9},{"shape":15,"level":3,"x":9.9,"y":23.9},{"shape":15,"level":3,"x":9,"y":22.6},{"shape":15,"level":3,"x":8.85,"y":21.7},{"shape":15,"level":3,"x":6.5,"y":21},{"shape":15,"level":3,"x":7,"y":19.7},{"shape":15,"level":3,"x":5.95,"y":17.7},{"shape":15,"level":3,"x":5.8,"y":15.9},{"shape":15,"level":3,"x":5.6,"y":14.5},{"shape":15,"level":3,"x":4.07,"y":13},

      {"shape":16,"level":4,"x":7.55,"y":13.9},{"shape":16,"level":4,"x":8.7,"y":12.3},{"shape":16,"level":4,"x":8.8,"y":10},{"shape":16,"level":4,"x":9.9,"y":8},{"shape":16,"level":4,"x":11.9,"y":8.35},{"shape":16,"level":4,"x":14,"y":7.8},{"shape":16,"level":4,"x":14.1,"y":6.9},{"shape":16,"level":4,"x":17,"y":6.25},{"shape":16,"level":4,"x":19.1,"y":7.6},{"shape":16,"level":4,"x":20.45,"y":9.15},{"shape":16,"level":4,"x":22.5,"y":10.7},{"shape":16,"level":4,"x":22.8,"y":11.85},{"shape":16,"level":4,"x":22.15,"y":13.9},{"shape":16,"level":4,"x":22.3,"y":15.7},{"shape":16,"level":4,"x":21.5,"y":18.6},{"shape":16,"level":4,"x":19.8,"y":19},{"shape":16,"level":4,"x":17.4,"y":19.9},{"shape":16,"level":4,"x":16,"y":21.2},{"shape":16,"level":4,"x":14.3,"y":20.8},{"shape":16,"level":4,"x":12.6,"y":20.1},{"shape":16,"level":4,"x":10.55,"y":19.8},{"shape":16,"level":4,"x":9.2,"y":18.8},{"shape":16,"level":4,"x":8.15,"y":16.8},{"shape":16,"level":4,"x":7.8,"y":15},{"shape":16,"level":4,"x":7.55,"y":13.9},

      {"shape":17,"level":5,"x":9.1,"y":13.9},{"shape":17,"level":5,"x":10,"y":11.2},{"shape":17,"level":5,"x":11.1,"y":10},{"shape":17,"level":5,"x":12.8,"y":9.4},{"shape":17,"level":5,"x":15,"y":8.8},{"shape":17,"level":5,"x":17.4,"y":8.9},{"shape":17,"level":5,"x":19.4,"y":9.6},{"shape":17,"level":5,"x":21,"y":11},{"shape":17,"level":5,"x":21.1,"y":15.9},{"shape":17,"level":5,"x":21,"y":17.5},{"shape":17,"level":5,"x":19.8,"y":17.9},{"shape":17,"level":5,"x":17,"y":18.6},{"shape":17,"level":5,"x":15.7,"y":19.2},{"shape":17,"level":5,"x":14,"y":18.8},{"shape":17,"level":5,"x":12.4,"y":18.8},{"shape":17,"level":5,"x":10.9,"y":17.9},{"shape":17,"level":5,"x":10,"y":16.6},{"shape":17,"level":5,"x":9.1,"y":16.1},{"shape":17,"level":5,"x":9.1,"y":13.9},

      {"shape":18,"level":6,"x":10,"y":14.1},{"shape":18,"level":6,"x":11.1,"y":11.2},{"shape":18,"level":6,"x":12.8,"y":9.7},{"shape":18,"level":6,"x":15,"y":9.4},{"shape":18,"level":6,"x":17.4,"y":9.6},{"shape":18,"level":6,"x":19.1,"y":10.05},{"shape":18,"level":6,"x":19.9,"y":12.3},{"shape":18,"level":6,"x":19.8,"y":15.9},{"shape":18,"level":6,"x":18.75,"y":16.6},{"shape":18,"level":6,"x":17,"y":17.9},{"shape":18,"level":6,"x":14.3,"y":17.9},{"shape":18,"level":6,"x":11.9,"y":18.1},{"shape":18,"level":6,"x":11.4,"y":16.8},{"shape":18,"level":6,"x":10.05,"y":15},{"shape":18,"level":6,"x":10,"y":14.1},

      {"shape":19,"level":7,"x":10.5,"y":14.8},{"shape":19,"level":7,"x":11.6,"y":11.6},{"shape":19,"level":7,"x":12.8,"y":10.3},{"shape":19,"level":7,"x":15.3,"y":9.8},{"shape":19,"level":7,"x":18.75,"y":10.7},{"shape":19,"level":7,"x":19.1,"y":11.4},{"shape":19,"level":7,"x":18.4,"y":11.85},{"shape":19,"level":7,"x":18.9,"y":12.75},{"shape":19,"level":7,"x":18.9,"y":15.7},{"shape":19,"level":7,"x":16.7,"y":17},{"shape":19,"level":7,"x":15.7,"y":17.5},{"shape":19,"level":7,"x":14,"y":17},{"shape":19,"level":7,"x":12.4,"y":16.6},{"shape":19,"level":7,"x":11.6,"y":15.7},{"shape":19,"level":7,"x":10.5,"y":14.8},

      {"shape":20,"level":6,"x":14.65,"y":12.5},{"shape":20,"level":6,"x":15.2,"y":12.1},{"shape":20,"level":6,"x":17.4,"y":11.8},{"shape":20,"level":6,"x":17.8,"y":12.75},{"shape":20,"level":6,"x":17,"y":13.6},{"shape":20,"level":6,"x":15.2,"y":13.6},{"shape":20,"level":6,"x":14.65,"y":12.5},
      {"shape":21,"level":8,"x":14.4,"y":10.9},{"shape":21,"level":8,"x":15.3,"y":10.5},{"shape":21,"level":8,"x":16.4,"y":10.6},{"shape":21,"level":8,"x":16.7,"y":11},{"shape":21,"level":8,"x":15.7,"y":11.5},{"shape":21,"level":8,"x":14.8,"y":11.4},{"shape":21,"level":8,"x":14.4,"y":10.9},
      {"shape":22,"level":8,"x":11.1,"y":14.8},{"shape":22,"level":8,"x":11.75,"y":13.65},{"shape":22,"level":8,"x":13.1,"y":12.5},{"shape":22,"level":8,"x":14,"y":13},{"shape":22,"level":8,"x":14.8,"y":14.1},{"shape":22,"level":8,"x":17,"y":14.1},{"shape":22,"level":8,"x":18,"y":15},{"shape":22,"level":8,"x":17,"y":16.3},{"shape":22,"level":8,"x":16,"y":17},{"shape":22,"level":8,"x":14.65,"y":16.3},{"shape":22,"level":8,"x":13.3,"y":16.3},{"shape":22,"level":8,"x":11.9,"y":15.9},{"shape":22,"level":8,"x":11.1,"y":14.8},
      {"shape":23,"level":9,"x":12.3,"y":14.9},{"shape":23,"level":9,"x":14,"y":14.5},{"shape":23,"level":9,"x":17.2,"y":14.6},{"shape":23,"level":9,"x":17.7,"y":14.9},{"shape":23,"level":9,"x":16.9,"y":16},{"shape":23,"level":9,"x":16,"y":16.6},{"shape":23,"level":9,"x":14.65,"y":15.6},{"shape":23,"level":9,"x":13.3,"y":15},{"shape":23,"level":9,"x":12.3,"y":14.9},
      {"shape":24,"level":10,"x":14.8,"y":15},{"shape":24,"level":10,"x":16.5,"y":14.85},{"shape":24,"level":10,"x":16,"y":16.2},{"shape":24,"level":10,"x":14.8,"y":15},

      {"shape":25,"level":2,"x":4.9,"y":14.9},{"shape":25,"level":2,"x":5,"y":14.8},{"shape":25,"level":2,"x":5.1,"y":14.9},{"shape":25,"level":2,"x":5,"y":15},{"shape":25,"level":2,"x":4.9,"y":14.9},
      {"shape":26,"level":2,"x":23.9,"y":14.9},{"shape":26,"level":2,"x":24,"y":14.8},{"shape":26,"level":2,"x":24.1,"y":14.9},{"shape":26,"level":2,"x":24,"y":15},{"shape":26,"level":2,"x":23.9,"y":14.9},
      {"shape":27,"level":0,"x":1,"y":1},{"shape":27,"level":0,"x":2,"y":1},{"shape":27,"level":0,"x":1,"y":1.8},{"shape":27,"level":0,"x":1,"y":1}
    ]
  },
  "columns": 2,
  "bounds": "flush",
  "spacing": {"row": 7, "column": 93},
  "resolve": {"scale": {"fill": "independent"}},
  "concat": [
    {
      "width": 292,
      "height": 20,
      "resolve": {"axis": {"x": "independent"}},
      "layer": [
        {
          "data": {"name": "jet"},
          "mark": {"type": "rect", "strokeWidth": 0.4},
          "encoding": {
            "x": {"field": "i", "type": "quantitative", "scale": {"domain": [0.807, 64.5], "nice": false, "zero": false}, "axis": {"orient": "top", "labelPadding": 4, "values": [15.27, 34.84, 54.32], "labelExpr": "round(8.218 + datum.value * 0.05122)", "title": null}},
            "x2": {"field": "j"},
            "y": {"datum": 0, "type": "quantitative", "scale": {"domain": [0, 1], "nice": false}, "axis": null},
            "y2": {"datum": 1},
            "color": {"field": "i", "type": "quantitative", "scale": {"domain": [0, 7, 23, 39, 55, 63], "range": ["#0000d0", "#0000ff", "#55ffff", "#ffff00", "#ff0000", "#600000"], "interpolate": "rgb"}, "legend": null},
            "stroke": {"field": "i", "type": "quantitative", "scale": {"domain": [0, 7, 23, 39, 55, 63], "range": ["#0000d0", "#0000ff", "#55ffff", "#ffff00", "#ff0000", "#600000"], "interpolate": "rgb"}, "legend": null}
          }
        },
        {
          "data": {"values": [{"from": 0, "to": 64}]},
          "mark": {"type": "rect", "filled": false, "stroke": "#222222", "strokeWidth": 1},
          "encoding": {
            "x": {"field": "from", "type": "quantitative", "axis": {"orient": "bottom", "values": [15.27, 34.84, 54.32], "labels": false, "title": null}},
            "x2": {"field": "to"},
            "y": {"datum": 0, "type": "quantitative"},
            "y2": {"datum": 1}
          }
        }
      ]
    },
    {
      "width": 292,
      "height": 20,
      "resolve": {"axis": {"x": "independent"}},
      "layer": [
        {
          "data": {"name": "jet"},
          "mark": {"type": "rect", "strokeWidth": 0.4},
          "encoding": {
            "x": {"field": "i", "type": "quantitative", "scale": {"domain": [0.8, 64], "nice": false, "zero": false}, "axis": {"orient": "top", "labelPadding": 4, "values": [3.18, 20.5, 37.88, 55.28], "labelExpr": "round(7.817 + datum.value * 0.0576)", "title": null}},
            "x2": {"field": "j"},
            "y": {"datum": 0, "type": "quantitative", "scale": {"domain": [0, 1], "nice": false}, "axis": null},
            "y2": {"datum": 1},
            "color": {"field": "i", "type": "quantitative", "scale": {"domain": [0, 7, 23, 39, 55, 63], "range": ["#0000d0", "#0000ff", "#55ffff", "#ffff00", "#ff0000", "#600000"], "interpolate": "rgb"}, "legend": null},
            "stroke": {"field": "i", "type": "quantitative", "scale": {"domain": [0, 7, 23, 39, 55, 63], "range": ["#0000d0", "#0000ff", "#55ffff", "#ffff00", "#ff0000", "#600000"], "interpolate": "rgb"}, "legend": null}
          }
        },
        {
          "data": {"values": [{"from": 0, "to": 64}]},
          "mark": {"type": "rect", "filled": false, "stroke": "#222222", "strokeWidth": 1},
          "encoding": {
            "x": {"field": "from", "type": "quantitative", "axis": {"orient": "bottom", "values": [3.18, 20.5, 37.88, 55.28], "labels": false, "title": null}},
            "x2": {"field": "to"},
            "y": {"datum": 0, "type": "quantitative"},
            "y2": {"datum": 1}
          }
        }
      ]
    },
    {
      "width": 292,
      "height": 223,
      "view": {"stroke": "#222222", "strokeWidth": 1},
      "resolve": {"axis": {"x": "independent", "y": "independent"}},
      "layer": [
        {
          "data": {"name": "topLeft"},
          "mark": {"type": "line", "stroke": "#222222", "strokeWidth": 0.9, "clip": true},
          "encoding": {
            "x": {"field": "x", "type": "quantitative", "scale": {"domain": [1, 31], "nice": false, "zero": false}, "axis": {"orient": "bottom", "values": [10, 20, 30], "title": null}},
            "y": {"field": "y", "type": "quantitative", "scale": {"domain": [31, 1], "nice": false, "zero": false}, "axis": {"orient": "left", "values": [5, 10, 15, 20, 25, 30], "title": "pixel"}},
            "detail": {"field": "shape"},
            "fill": {"field": "level", "type": "nominal", "scale": {"domain": [0, 1, 2, 3, 4, 5, 6, 7], "range": ["#000000", "#0000d8", "#1a30ff", "#3f7fff", "#7fffbf", "#aaff00", "#ffa000", "#ff1400"]}, "legend": null},
            "order": {"value": null}
          }
        },
        {
          "data": {"values": [{"x": 27.9, "y": 3.8, "label": "x 10"}]},
          "mark": {"type": "text", "fontSize": 20, "font": "Liberation Sans", "color": "#222222"},
          "encoding": {
            "x": {"field": "x", "type": "quantitative", "axis": {"orient": "top", "values": [10, 20, 30], "labels": false, "title": null}},
            "y": {"field": "y", "type": "quantitative", "axis": {"orient": "right", "values": [5, 10, 15, 20, 25, 30], "labels": false, "title": null}},
            "text": {"field": "label"}
          }
        },
        {
          "data": {"values": [{"x": 30.2, "y": 2.3, "label": "4"}]},
          "mark": {"type": "text", "fontSize": 13, "font": "Liberation Sans", "color": "#222222"},
          "encoding": {
            "x": {"field": "x", "type": "quantitative", "axis": null},
            "y": {"field": "y", "type": "quantitative", "axis": null},
            "text": {"field": "label"}
          }
        }
      ]
    },
    {
      "width": 292,
      "height": 223,
      "view": {"stroke": "#222222", "strokeWidth": 1},
      "resolve": {"axis": {"x": "independent", "y": "independent"}},
      "layer": [
        {
          "data": {"name": "topRight"},
          "mark": {"type": "line", "stroke": "#222222", "strokeWidth": 0.9, "clip": true},
          "encoding": {
            "x": {"field": "x", "type": "quantitative", "scale": {"domain": [1, 31], "nice": false, "zero": false}, "axis": {"orient": "bottom", "values": [10, 20, 30], "title": null}},
            "y": {"field": "y", "type": "quantitative", "scale": {"domain": [31, 1], "nice": false, "zero": false}, "axis": {"orient": "left", "values": [5, 10, 15, 20, 25, 30], "title": null}},
            "detail": {"field": "shape"},
            "fill": {"field": "level", "type": "nominal", "scale": {"domain": [0, 1, 2, 3], "range": ["#000000", "#0000d8", "#1020ff", "#2b50ff"]}, "legend": null},
            "order": {"value": null}
          }
        },
        {
          "data": {"values": [{"x": 28.1, "y": 3.9, "label": "x 10"}]},
          "mark": {"type": "text", "fontSize": 20, "font": "Liberation Sans", "color": "#222222"},
          "encoding": {
            "x": {"field": "x", "type": "quantitative", "axis": {"orient": "top", "values": [10, 20, 30], "labels": false, "title": null}},
            "y": {"field": "y", "type": "quantitative", "axis": {"orient": "right", "values": [5, 10, 15, 20, 25, 30], "labels": false, "title": null}},
            "text": {"field": "label"}
          }
        },
        {
          "data": {"values": [{"x": 30.4, "y": 2.35, "label": "4"}]},
          "mark": {"type": "text", "fontSize": 13, "font": "Liberation Sans", "color": "#222222"},
          "encoding": {
            "x": {"field": "x", "type": "quantitative", "axis": null},
            "y": {"field": "y", "type": "quantitative", "axis": null},
            "text": {"field": "label"}
          }
        }
      ]
    },
    {
      "width": 292,
      "height": 73,
      "resolve": {"axis": {"x": "independent"}},
      "layer": [
        {
          "data": {"name": "jet"},
          "mark": {"type": "rect", "strokeWidth": 0.4},
          "encoding": {
            "x": {"field": "i", "type": "quantitative", "scale": {"domain": [-0.435, 63.12], "nice": false, "zero": false}, "axis": {"orient": "top", "labelPadding": 4, "offset": -48, "values": [17.78, 36.28, 54.78], "labelExpr": "round(8.039 + datum.value * 0.05405)", "title": null}},
            "x2": {"field": "j"},
            "y": {"datum": 0, "type": "quantitative", "scale": {"domain": [-0.088, 3.128], "nice": false}, "axis": null},
            "y2": {"datum": 1},
            "color": {"field": "i", "type": "quantitative", "scale": {"domain": [0, 7, 23, 39, 55, 63], "range": ["#0000d0", "#0000ff", "#55ffff", "#ffff00", "#ff0000", "#600000"], "interpolate": "rgb"}, "legend": null},
            "stroke": {"field": "i", "type": "quantitative", "scale": {"domain": [0, 7, 23, 39, 55, 63], "range": ["#0000d0", "#0000ff", "#55ffff", "#ffff00", "#ff0000", "#600000"], "interpolate": "rgb"}, "legend": null}
          }
        },
        {
          "data": {"values": [{"from": 0, "to": 64}]},
          "mark": {"type": "rect", "filled": false, "stroke": "#222222", "strokeWidth": 1},
          "encoding": {
            "x": {"field": "from", "type": "quantitative", "axis": {"orient": "bottom", "offset": -2, "values": [17.78, 36.28, 54.78], "labels": false, "title": null}},
            "x2": {"field": "to"},
            "y": {"datum": 0, "type": "quantitative"},
            "y2": {"datum": 1}
          }
        }
      ]
    },
    {
      "width": 292,
      "height": 73,
      "resolve": {"axis": {"x": "independent"}},
      "layer": [
        {
          "data": {"name": "jet"},
          "mark": {"type": "rect", "strokeWidth": 0.4},
          "encoding": {
            "x": {"field": "i", "type": "quantitative", "scale": {"domain": [1.515, 64.72], "nice": false, "zero": false}, "axis": {"orient": "top", "labelPadding": 4, "offset": -50, "values": [4.48, 19.26, 34.2, 49.07, 64], "labelExpr": "round(7.7 + datum.value * 0.0672)", "title": null}},
            "x2": {"field": "j"},
            "y": {"datum": 0, "type": "quantitative", "scale": {"domain": [-0.15, 3.5], "nice": false}, "axis": null},
            "y2": {"datum": 1},
            "color": {"field": "i", "type": "quantitative", "scale": {"domain": [0, 7, 23, 39, 55, 63], "range": ["#0000d0", "#0000ff", "#55ffff", "#ffff00", "#ff0000", "#600000"], "interpolate": "rgb"}, "legend": null},
            "stroke": {"field": "i", "type": "quantitative", "scale": {"domain": [0, 7, 23, 39, 55, 63], "range": ["#0000d0", "#0000ff", "#55ffff", "#ffff00", "#ff0000", "#600000"], "interpolate": "rgb"}, "legend": null}
          }
        },
        {
          "data": {"values": [{"from": 0, "to": 64}]},
          "mark": {"type": "rect", "filled": false, "stroke": "#222222", "strokeWidth": 1},
          "encoding": {
            "x": {"field": "from", "type": "quantitative", "axis": {"orient": "bottom", "offset": -3, "values": [4.48, 19.26, 34.2, 49.07, 64], "labels": false, "title": null}},
            "x2": {"field": "to"},
            "y": {"datum": 0, "type": "quantitative"},
            "y2": {"datum": 1}
          }
        }
      ]
    },
    {
      "width": 292,
      "height": 223,
      "view": {"stroke": "#222222", "strokeWidth": 1},
      "resolve": {"axis": {"x": "independent", "y": "independent"}},
      "layer": [
        {
          "data": {"name": "bottomLeft"},
          "mark": {"type": "line", "stroke": "#222222", "strokeWidth": 0.9, "clip": true},
          "encoding": {
            "x": {"field": "x", "type": "quantitative", "scale": {"domain": [1, 31], "nice": false, "zero": false}, "axis": {"orient": "bottom", "values": [10, 20, 30], "title": "pixel"}},
            "y": {"field": "y", "type": "quantitative", "scale": {"domain": [31, 1], "nice": false, "zero": false}, "axis": {"orient": "left", "values": [5, 10, 15, 20, 25, 30], "title": "pixel"}},
            "detail": {"field": "shape"},
            "fill": {"field": "level", "type": "nominal", "scale": {"domain": [0, 1, 2, 3], "range": ["#000000", "#0000d8", "#2040ff", "#55b4ff"]}, "legend": null},
            "order": {"value": null}
          }
        },
        {
          "data": {"values": [{"x": 28.5, "y": 3.7, "label": "x 10"}]},
          "mark": {"type": "text", "fontSize": 20, "font": "Liberation Sans", "color": "#222222"},
          "encoding": {
            "x": {"field": "x", "type": "quantitative", "axis": {"orient": "top", "values": [10, 20, 30], "labels": false, "title": null}},
            "y": {"field": "y", "type": "quantitative", "axis": {"orient": "right", "values": [5, 10, 15, 20, 25, 30], "labels": false, "title": null}},
            "text": {"field": "label"}
          }
        },
        {
          "data": {"values": [{"x": 30.9, "y": 2.1, "label": "4"}]},
          "mark": {"type": "text", "fontSize": 13, "font": "Liberation Sans", "color": "#222222"},
          "encoding": {
            "x": {"field": "x", "type": "quantitative", "axis": null},
            "y": {"field": "y", "type": "quantitative", "axis": null},
            "text": {"field": "label"}
          }
        }
      ]
    },
    {
      "width": 292,
      "height": 223,
      "view": {"stroke": "#222222", "strokeWidth": 1},
      "resolve": {"axis": {"x": "independent", "y": "independent"}},
      "layer": [
        {
          "data": {"name": "bottomRight"},
          "mark": {"type": "line", "stroke": "#222222", "strokeWidth": 0.9, "clip": true},
          "encoding": {
            "x": {"field": "x", "type": "quantitative", "scale": {"domain": [1, 31], "nice": false, "zero": false}, "axis": {"orient": "bottom", "values": [10, 20, 30], "title": "pixel"}},
            "y": {"field": "y", "type": "quantitative", "scale": {"domain": [31, 1], "nice": false, "zero": false}, "axis": {"orient": "left", "values": [5, 10, 15, 20, 25, 30], "title": null}},
            "detail": {"field": "shape"},
            "fill": {"field": "level", "type": "nominal", "scale": {"domain": [0, 1, 2, 3, 4, 5, 6, 7, 8, 9, 10], "range": ["#000000", "#0000d8", "#1433ff", "#2b55ff", "#55f0ff", "#7fff9f", "#aaff00", "#ffe000", "#ff4000", "#ff1400", "#700000"]}, "legend": null},
            "order": {"value": null}
          }
        },
        {
          "data": {"values": [{"x": 27.7, "y": 3.55, "label": "x 10"}]},
          "mark": {"type": "text", "fontSize": 20, "font": "Liberation Sans", "color": "#222222"},
          "encoding": {
            "x": {"field": "x", "type": "quantitative", "axis": {"orient": "top", "values": [10, 20, 30], "labels": false, "title": null}},
            "y": {"field": "y", "type": "quantitative", "axis": {"orient": "right", "values": [5, 10, 15, 20, 25, 30], "labels": false, "title": null}},
            "text": {"field": "label"}
          }
        },
        {
          "data": {"values": [{"x": 30.1, "y": 1.9, "label": "4"}]},
          "mark": {"type": "text", "fontSize": 13, "font": "Liberation Sans", "color": "#222222"},
          "encoding": {
            "x": {"field": "x", "type": "quantitative", "axis": null},
            "y": {"field": "y", "type": "quantitative", "axis": null},
            "text": {"field": "label"}
          }
        }
      ]
    }
  ],
  "config": {
    "view": {"stroke": null},
    "axis": {
      "grid": false,
      "domain": false,
      "tickSize": -3,
      "tickColor": "#222222",
      "labelFont": "Liberation Sans",
      "labelFontSize": 20,
      "labelColor": "#000000",
      "titleFont": "Liberation Sans",
      "titleFontSize": 20,
      "titleFontWeight": "normal",
      "titleColor": "#000000"
    },
    "axisX": {"labelPadding": 13, "titlePadding": 3},
    "axisY": {"labelPadding": 6, "labelOffset": 2, "titlePadding": 26}
  }
}
